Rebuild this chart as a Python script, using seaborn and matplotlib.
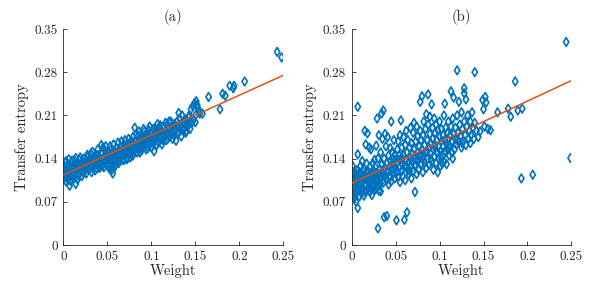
import numpy as np
import pandas as pd
import matplotlib
matplotlib.use("Agg")
import matplotlib.pyplot as plt
import seaborn as sns

# ---------------- data ----------------
titles = ["(a)", "(b)"]
x_label = "Weight"
y_label = "Transfer entropy"
x_ticks = [0, 0.05, 0.1, 0.15, 0.2, 0.25]
x_tick_labels = ["0", "0.05", "0.1", "0.15", "0.2", "0.25"]
y_ticks = [0, 0.07, 0.14, 0.21, 0.28, 0.35]
y_tick_labels = ["0", "0.07", "0.14", "0.21", "0.28", "0.35"]

pts_a = [
(0.001,0.128),(0.001,0.118),(0.002,0.110),(0.002,0.134),(0.003,0.122),(0.003,0.103),(0.004,0.126),(0.005,0.115),(0.005,0.131),(0.006,0.120),
(0.007,0.096),(0.007,0.127),(0.008,0.112),(0.009,0.133),(0.009,0.121),(0.010,0.118),(0.011,0.129),(0.011,0.108),(0.012,0.124),(0.013,0.136),
(0.013,0.117),(0.014,0.099),(0.015,0.127),(0.015,0.121),(0.016,0.132),(0.017,0.113),(0.018,0.125),(0.018,0.138),(0.019,0.119),(0.020,0.130),
(0.021,0.124),(0.022,0.135),(0.022,0.118),(0.023,0.140),(0.024,0.128),(0.025,0.132),(0.025,0.121),(0.026,0.137),(0.027,0.127),(0.028,0.143),
(0.028,0.131),(0.029,0.122),(0.030,0.135),(0.031,0.148),(0.031,0.128),(0.032,0.139),(0.033,0.125),(0.034,0.136),(0.035,0.144),(0.035,0.131),
(0.036,0.121),(0.037,0.140),(0.038,0.133),(0.039,0.146),(0.040,0.128),(0.040,0.138),(0.041,0.142),(0.042,0.135),(0.043,0.162),(0.043,0.131),
(0.044,0.149),(0.045,0.139),(0.046,0.126),(0.046,0.143),(0.047,0.153),(0.048,0.137),(0.049,0.146),(0.050,0.131),(0.050,0.141),
(0.051,0.150),(0.052,0.124),(0.052,0.144),(0.053,0.137),(0.054,0.155),(0.055,0.140),(0.056,0.116),(0.056,0.148),(0.057,0.134),(0.058,0.126),
(0.058,0.152),(0.059,0.143),(0.060,0.158),(0.061,0.140),(0.061,0.149),(0.062,0.136),(0.063,0.154),(0.064,0.146),(0.065,0.160),(0.065,0.141),
(0.066,0.151),(0.067,0.138),(0.068,0.157),(0.068,0.148),(0.069,0.163),(0.070,0.144),(0.071,0.155),(0.072,0.150),(0.072,0.139),(0.073,0.160),
(0.074,0.147),(0.075,0.165),(0.075,0.153),(0.076,0.142),(0.077,0.158),(0.078,0.150),(0.078,0.168),(0.079,0.145),(0.080,0.160),
(0.081,0.190),(0.081,0.154),(0.082,0.170),(0.083,0.162),(0.084,0.150),(0.084,0.175),(0.085,0.165),(0.086,0.158),(0.087,0.172),(0.088,0.180),
(0.088,0.163),(0.089,0.154),(0.090,0.176),(0.091,0.168),(0.092,0.184),(0.092,0.160),(0.093,0.173),(0.094,0.165),(0.095,0.181),(0.096,0.157),
(0.096,0.170),(0.097,0.186),(0.098,0.176),(0.099,0.165),(0.100,0.180),(0.101,0.172),(0.102,0.188),(0.103,0.152),(0.103,0.177),(0.104,0.169),
(0.105,0.184),(0.106,0.175),(0.107,0.196),(0.108,0.180),(0.108,0.166),(0.109,0.190),(0.110,0.178),
(0.111,0.186),(0.112,0.163),(0.113,0.182),(0.114,0.192),(0.115,0.175),(0.116,0.186),(0.117,0.170),(0.118,0.195),(0.119,0.181),(0.120,0.188),
(0.121,0.176),(0.122,0.200),(0.123,0.185),(0.124,0.192),(0.125,0.179),(0.126,0.196),(0.127,0.187),(0.128,0.169),(0.129,0.200),(0.130,0.191),
(0.131,0.214),(0.131,0.183),(0.132,0.205),(0.133,0.195),(0.134,0.176),(0.135,0.210),(0.136,0.198),(0.137,0.188),(0.138,0.204),(0.139,0.193),
(0.140,0.185),(0.141,0.200),(0.142,0.207),(0.143,0.196),(0.144,0.188),(0.145,0.220),(0.147,0.225),(0.148,0.203),(0.149,0.230),(0.150,0.199),
(0.151,0.233),(0.152,0.227),(0.154,0.217),(0.155,0.213),(0.158,0.213),
(0.165,0.240),(0.178,0.220),(0.181,0.245),(0.184,0.242),(0.189,0.258),(0.193,0.254),(0.194,0.258),(0.206,0.265),(0.243,0.313),(0.248,0.304),
# extra points filling the dense band
(0.000,0.122),(0.000,0.112),(0.003,0.136),(0.004,0.108),(0.006,0.139),(0.008,0.104),(0.010,0.137),(0.012,0.113),(0.014,0.141),(0.016,0.106),
(0.019,0.142),(0.021,0.112),(0.023,0.127),(0.026,0.116),(0.027,0.146),(0.029,0.138),(0.032,0.118),(0.033,0.151),(0.036,0.134),(0.038,0.124),
(0.039,0.155),(0.041,0.125),(0.044,0.128),(0.045,0.158),(0.047,0.133),(0.048,0.160),(0.051,0.128),(0.053,0.160),(0.054,0.131),(0.055,0.122),
(0.057,0.163),(0.059,0.131),(0.060,0.137),(0.062,0.166),(0.063,0.133),(0.066,0.168),(0.067,0.145),(0.069,0.138),(0.070,0.170),(0.071,0.147),
(0.073,0.141),(0.074,0.172),(0.076,0.162),(0.077,0.148),(0.079,0.175),(0.080,0.152),(0.082,0.158),(0.083,0.180),(0.085,0.156),(0.086,0.184),
(0.087,0.150),(0.089,0.170),(0.090,0.160),(0.091,0.188),(0.093,0.163),(0.094,0.155),(0.095,0.174),(0.097,0.162),(0.098,0.192),(0.099,0.170),
(0.100,0.158),(0.101,0.184),(0.102,0.166),(0.104,0.190),(0.105,0.172),(0.106,0.162),(0.107,0.182),(0.109,0.174),(0.110,0.194),(0.111,0.172),
(0.113,0.170),(0.114,0.180),(0.116,0.198),(0.117,0.183),(0.119,0.173),(0.120,0.200),(0.122,0.182),(0.124,0.172),(0.126,0.185),(0.128,0.193),
(0.130,0.180),(0.133,0.186),(0.135,0.190),(0.137,0.200),(0.139,0.182),(0.141,0.192),(0.143,0.210),(0.146,0.198),(0.150,0.210),(0.153,0.222),
]

pts_b = [
(0.001,0.128),(0.001,0.098),(0.002,0.085),(0.002,0.112),(0.003,0.104),(0.003,0.076),(0.004,0.118),(0.004,0.093),(0.005,0.108),(0.005,0.070),
(0.006,0.100),(0.006,0.121),(0.007,0.224),(0.007,0.060),(0.007,0.147),(0.008,0.089),(0.008,0.113),(0.009,0.079),(0.009,0.105),(0.010,0.128),
(0.010,0.095),(0.011,0.084),(0.011,0.116),(0.012,0.102),(0.012,0.136),(0.013,0.091),(0.013,0.109),(0.014,0.080),(0.014,0.124),(0.015,0.185),
(0.015,0.098),(0.016,0.112),(0.016,0.163),(0.017,0.088),(0.017,0.132),(0.018,0.181),(0.018,0.104),(0.019,0.119),(0.019,0.093),(0.020,0.158),
(0.020,0.110),
(0.021,0.127),(0.021,0.086),(0.022,0.100),(0.022,0.155),(0.023,0.115),(0.023,0.081),(0.024,0.132),(0.024,0.106),(0.025,0.095),(0.025,0.121),
(0.026,0.138),(0.026,0.110),(0.027,0.090),(0.027,0.126),(0.028,0.103),(0.028,0.161),(0.029,0.205),(0.029,0.117),(0.030,0.027),(0.030,0.140),
(0.030,0.098),(0.031,0.088),(0.031,0.178),(0.032,0.123),(0.032,0.108),(0.033,0.087),(0.033,0.150),(0.034,0.213),(0.034,0.130),(0.035,0.116),
(0.035,0.172),(0.036,0.101),(0.036,0.218),(0.037,0.045),(0.037,0.140),(0.038,0.125),(0.038,0.180),(0.039,0.108),(0.039,0.160),(0.040,0.047),
(0.040,0.133),(0.041,0.118),(0.041,0.175),(0.042,0.098),(0.042,0.145),(0.043,0.126),(0.043,0.112),(0.044,0.157),(0.044,0.136),(0.045,0.200),
(0.045,0.103),(0.046,0.122),(0.046,0.150),(0.047,0.140),(0.047,0.115),(0.048,0.130),(0.048,0.170),(0.049,0.108),(0.049,0.146),(0.050,0.125),
(0.050,0.138),
(0.051,0.040),(0.051,0.118),(0.052,0.155),(0.052,0.133),(0.053,0.110),(0.053,0.168),(0.054,0.145),(0.054,0.125),(0.055,0.178),(0.055,0.102),
(0.056,0.202),(0.056,0.139),(0.057,0.120),(0.057,0.158),(0.058,0.131),(0.058,0.112),(0.059,0.175),(0.059,0.146),(0.060,0.041),(0.060,0.127),
(0.061,0.162),(0.061,0.105),(0.062,0.138),(0.062,0.185),(0.063,0.053),(0.063,0.150),(0.064,0.122),(0.064,0.170),(0.065,0.135),(0.065,0.115),
(0.066,0.158),(0.066,0.143),(0.067,0.190),(0.067,0.128),(0.068,0.165),(0.068,0.108),(0.069,0.148),(0.069,0.135),(0.070,0.182),(0.070,0.120),
(0.071,0.155),(0.071,0.198),(0.072,0.086),(0.072,0.140),(0.073,0.168),(0.073,0.130),(0.074,0.115),(0.074,0.192),(0.075,0.150),(0.075,0.176),
(0.076,0.137),(0.076,0.122),(0.077,0.160),(0.077,0.145),(0.078,0.232),(0.078,0.185),(0.079,0.132),(0.079,0.170),(0.080,0.241),(0.080,0.155),
(0.081,0.118),(0.081,0.178),(0.082,0.145),(0.082,0.200),(0.083,0.162),(0.083,0.133),(0.084,0.188),(0.084,0.150),(0.085,0.212),(0.085,0.125),
(0.086,0.170),(0.086,0.140),(0.087,0.244),(0.087,0.195),(0.088,0.158),(0.088,0.130),(0.089,0.180),(0.089,0.208),(0.090,0.148),(0.090,0.165),
(0.091,0.228),(0.091,0.135),(0.092,0.190),(0.092,0.172),(0.093,0.155),(0.093,0.122),(0.094,0.205),(0.094,0.143),(0.095,0.182),(0.095,0.162),
(0.096,0.133),(0.096,0.195),(0.097,0.170),(0.097,0.150),(0.098,0.118),(0.098,0.186),(0.099,0.160),(0.099,0.140),(0.100,0.175),(0.100,0.200),
(0.101,0.152),(0.101,0.128),(0.102,0.168),(0.102,0.188),(0.103,0.145),(0.103,0.132),(0.104,0.178),(0.104,0.160),(0.105,0.210),(0.105,0.135),
(0.106,0.229),(0.106,0.170),(0.107,0.150),(0.107,0.190),(0.108,0.165),(0.108,0.131),(0.109,0.182),(0.109,0.155),(0.110,0.200),(0.110,0.170),
(0.111,0.145),(0.112,0.178),(0.112,0.160),(0.113,0.249),(0.113,0.192),(0.114,0.168),(0.115,0.140),(0.115,0.205),(0.116,0.239),(0.116,0.180),
(0.117,0.155),(0.118,0.172),(0.118,0.190),(0.119,0.163),(0.120,0.283),(0.120,0.210),(0.121,0.182),(0.122,0.232),(0.122,0.168),(0.123,0.195),
(0.124,0.176),(0.125,0.158),(0.125,0.215),(0.126,0.188),(0.127,0.170),(0.128,0.254),(0.128,0.246),(0.128,0.200),(0.129,0.178),(0.130,0.236),
(0.130,0.162),(0.131,0.192),(0.132,0.210),(0.133,0.172),(0.134,0.185),(0.135,0.165),(0.135,0.200),(0.136,0.178),(0.137,0.215),(0.138,0.190),
(0.139,0.172),(0.140,0.280),(0.140,0.198),(0.142,0.185),(0.144,0.175),(0.146,0.184),(0.149,0.235),(0.150,0.220),(0.151,0.192),(0.152,0.240),
(0.153,0.231),(0.155,0.188),(0.158,0.186),(0.166,0.215),(0.178,0.221),(0.181,0.208),(0.186,0.265),(0.189,0.218),(0.194,0.221),(0.193,0.108),
(0.206,0.114),(0.244,0.329),(0.249,0.141),
# extra points filling the dense lower-left cluster
(0.000,0.090),(0.000,0.106),(0.001,0.080),(0.002,0.118),(0.003,0.095),(0.004,0.084),(0.005,0.099),(0.006,0.088),(0.007,0.108),(0.008,0.096),
(0.009,0.118),(0.010,0.086),(0.011,0.102),(0.012,0.090),(0.013,0.120),(0.014,0.106),(0.015,0.086),(0.016,0.096),(0.017,0.118),(0.018,0.092),
(0.019,0.108),(0.020,0.100),(0.021,0.116),(0.022,0.092),(0.023,0.106),(0.024,0.118),(0.025,0.108),(0.026,0.098),(0.027,0.114),(0.028,0.094),
(0.029,0.108),(0.031,0.115),(0.033,0.100),(0.034,0.110),(0.036,0.122),(0.038,0.112),(0.040,0.105),(0.042,0.120),(0.044,0.110),(0.046,0.132),
(0.052,0.120),(0.054,0.138),(0.058,0.140),(0.062,0.128),(0.066,0.120),(0.068,0.140),(0.072,0.128),(0.075,0.140),(0.078,0.148),(0.082,0.138),
(0.086,0.152),(0.090,0.140),(0.094,0.160),(0.098,0.150),(0.102,0.140),(0.106,0.152),(0.110,0.160),(0.114,0.150),(0.120,0.170),(0.126,0.165),
]

fit_x = [0.0, 0.25]
fit_a = [0.1136, 0.275]
fit_b = [0.100, 0.2665]

# ---------------- style ----------------
sns.set_style("ticks")
plt.rcParams["font.family"] = ["cmr10", "DejaVu Serif"]
plt.rcParams["axes.formatter.use_mathtext"] = True
plt.rcParams["xtick.direction"] = "in"
plt.rcParams["ytick.direction"] = "in"

BLUE = "#0072BD"
ORANGE = "#D95319"

fig = plt.figure(figsize=(5.99, 2.90), dpi=100)
ax_a = fig.add_axes([0.106, 0.155, 0.367, 0.745])
ax_b = fig.add_axes([0.587, 0.155, 0.367, 0.745])

for ax, pts, fit, title in [(ax_a, pts_a, fit_a, titles[0]), (ax_b, pts_b, fit_b, titles[1])]:
    df = pd.DataFrame(pts, columns=["w", "te"])
    sns.scatterplot(data=df, x="w", y="te", ax=ax, marker="d", s=20,
                    facecolor="none", edgecolor=BLUE, linewidth=1.2, zorder=2)
    line_df = pd.DataFrame({"w": fit_x, "te": fit})
    sns.lineplot(data=line_df, x="w", y="te", ax=ax, color=ORANGE, linewidth=1.1, zorder=3)
    ax.set_xlim(0, 0.25)
    ax.set_ylim(0, 0.35)
    ax.set_xticks(x_ticks)
    ax.set_xticklabels(x_tick_labels)
    ax.set_yticks(y_ticks)
    ax.set_yticklabels(y_tick_labels)
    ax.tick_params(labelsize=9.5, length=3, width=0.6, color="#262626", labelcolor="#262626", pad=4)
    ax.set_xlabel(x_label, fontsize=10.5, color="#262626", labelpad=1)
    ax.set_ylabel(y_label, fontsize=10.5, color="#262626", labelpad=4)
    ax.set_title(title, fontsize=10.5, color="#262626", pad=6)
    for side in ["top", "right"]:
        ax.spines[side].set_visible(False)
    for side in ["left", "bottom"]:
        ax.spines[side].set_linewidth(0.6)
        ax.spines[side].set_color("#262626")

fig.savefig("out.png", dpi=100)
